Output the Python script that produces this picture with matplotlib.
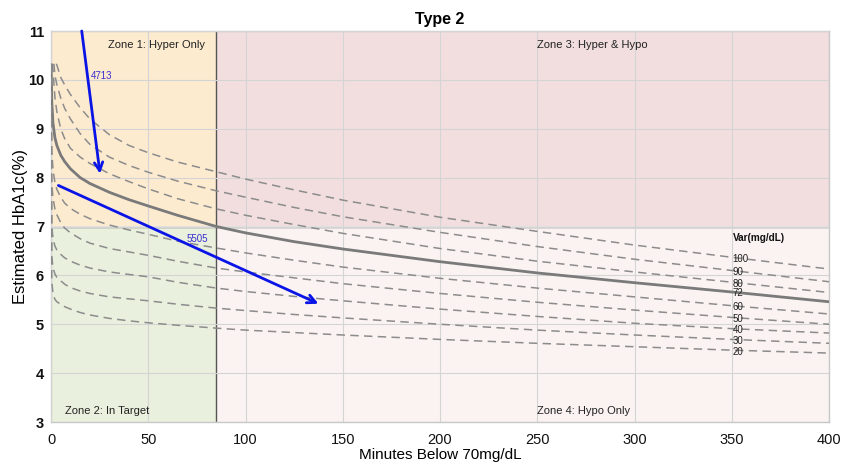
import matplotlib
matplotlib.use("Agg")
import matplotlib.pyplot as plt
import numpy as np

plt.rcParams['font.family'] = ['Liberation Sans', 'DejaVu Sans']

title = "Type 2"
xlabel = "Minutes Below 70mg/dL"
ylabel = "Estimated HbA1c(%)"
xticks = [0, 50, 100, 150, 200, 250, 300, 350, 400]
yticks = [3, 4, 5, 6, 7, 8, 9, 10, 11]

# zone boundaries
hypo_limit = 85
hyper_limit = 7.0

# common x grid for curves (minutes)
x_grid = [0.1, 0.4, 1, 2, 3, 5, 7, 10, 15, 20, 30, 40, 50, 65, 85, 100, 125, 150, 200, 250, 300, 350, 400]

# curves by variability (mg/dL); nan where above the chart's cap
v100 = [np.nan, np.nan, np.nan, np.nan, np.nan, 10.05, 9.9, 9.7, 9.43, 9.2, 8.88, 8.66, 8.51, 8.32, 8.12, 7.97, 7.75, 7.54, 7.19, 6.90, 6.62, 6.37, 6.13]
v90 = [np.nan, np.nan, np.nan, 10.1, 9.9, 9.63, 9.42, 9.2, 8.9, 8.68, 8.42, 8.25, 8.11, 7.93, 7.73, 7.6, 7.39, 7.2, 6.88, 6.59, 6.33, 6.10, 5.87]
v80 = [np.nan, np.nan, 10.2, 9.65, 9.35, 9.0, 8.8, 8.6, 8.42, 8.29, 8.08, 7.92, 7.77, 7.57, 7.36, 7.23, 7.04, 6.86, 6.55, 6.29, 6.07, 5.86, 5.65]
v72 = [10.2, 9.55, 9.12, 8.82, 8.66, 8.46, 8.33, 8.18, 8.0, 7.88, 7.7, 7.55, 7.42, 7.23, 7.0, 6.87, 6.69, 6.54, 6.28, 6.05, 5.85, 5.66, 5.46]
v60 = [10.0, 8.55, 8.18, 7.9, 7.76, 7.6, 7.48, 7.37, 7.25, 7.16, 7.03, 6.93, 6.84, 6.70, 6.56, 6.46, 6.31, 6.17, 5.94, 5.74, 5.56, 5.38, 5.21]
v50 = [9.6, 7.85, 7.6, 7.36, 7.24, 7.08, 6.97, 6.87, 6.75, 6.66, 6.55, 6.48, 6.41, 6.29, 6.15, 6.07, 5.95, 5.83, 5.63, 5.45, 5.29, 5.14, 5.0]
v40 = [9.2, 7.0, 6.77, 6.6, 6.52, 6.43, 6.36, 6.29, 6.21, 6.15, 6.07, 6.02, 5.97, 5.86, 5.74, 5.67, 5.57, 5.48, 5.31, 5.16, 5.02, 4.91, 4.82]
v30 = [8.6, 6.38, 6.16, 6.03, 5.96, 5.89, 5.82, 5.75, 5.68, 5.63, 5.56, 5.52, 5.48, 5.41, 5.33, 5.28, 5.2, 5.13, 5.0, 4.88, 4.78, 4.69, 4.61]
v20 = [8.0, 5.88, 5.63, 5.51, 5.46, 5.41, 5.36, 5.31, 5.24, 5.19, 5.12, 5.07, 5.03, 4.98, 4.92, 4.88, 4.83, 4.78, 4.69, 4.61, 4.54, 4.47, 4.41]
# start points where the curves meet the chart's cap
cap_start_x = {"100": 2.8, "90": 1.5, "80": 0.8, "72": 0.0, "60": 0.0, "50": 0.0, "40": 0.0, "30": 0.0, "20": 0.0}
cap_value = 10.33

var_names = ["100", "90", "80", "72", "60", "50", "40", "30", "20"]
var_series = [v100, v90, v80, v72, v60, v50, v40, v30, v20]

# patient trajectories
arrow1_label = "4713"
arrow1_start = (15.8, 11.0)
arrow1_end = (25.2, 8.08)
arrow2_label = "5505"
arrow2_start = (3.8, 7.84)
arrow2_end = (137.5, 5.42)

fig = plt.figure(figsize=(8.42, 4.65), dpi=100)
ax = fig.add_axes([51/842, 1-422/465, (829-51)/842, (422-31)/465])
ax.set_xlim(0, 400)
ax.set_ylim(3, 11)

# zones
ax.axvspan(0, hypo_limit, ymin=0.5, ymax=1, color="#fdebd0", lw=0, zorder=0)
ax.axvspan(0, hypo_limit, ymin=0, ymax=0.5, color="#e9f0dd", lw=0, zorder=0)
ax.axvspan(hypo_limit, 400, ymin=0.5, ymax=1, color="#f2dede", lw=0, zorder=0)
ax.axvspan(hypo_limit, 400, ymin=0, ymax=0.5, color="#faf3f1", lw=0, zorder=0)

ax.set_xticks(xticks)
ax.set_yticks(yticks)
ax.grid(True, color="#d4d4d4", lw=0.8, zorder=1)
ax.set_axisbelow(False)

ax.axvline(hypo_limit, color="#555555", lw=1.0, zorder=2)
ax.axhline(hyper_limit, color="#666666", lw=1.0, zorder=2)

xg = np.array(x_grid)
i350 = x_grid.index(350)
for name, ys in zip(var_names, var_series):
    ys = np.array(ys, dtype=float)
    mask = ~np.isnan(ys)
    label_y = ys[i350]
    xs = np.concatenate([[cap_start_x[name]], xg[mask]])
    ys = np.concatenate([[cap_value], ys[mask]])
    if name == "72":
        ax.plot(xs, ys, color="#7a7a7a", lw=2.0, zorder=3, solid_capstyle='butt',
                solid_joinstyle='round')
    else:
        ax.plot(xs, ys, color="#8c8c8c", lw=1.1, ls=(0, (5.5, 3.5)), zorder=3)
    ax.text(350.5, label_y - 0.03, name, fontsize=7, color="#222222",
            ha="left", va="center", zorder=5)

ax.text(350.5, 6.77, "Var(mg/dL)", fontsize=7.2, fontweight="bold",
        color="#111111", ha="left", va="center", zorder=5)

# arrows
for (s, e, lab, lab_xy, ha) in [(arrow1_start, arrow1_end, arrow1_label, (20.5, 10.07), "left"),
                                (arrow2_start, arrow2_end, arrow2_label, (81, 6.74), "right")]:
    ax.annotate("", xy=e, xytext=s,
                arrowprops=dict(arrowstyle="->,head_length=0.6,head_width=0.3",
                                color="#0a14e6", lw=2.0, shrinkA=0, shrinkB=0),
                zorder=6, annotation_clip=False)
    ax.text(lab_xy[0], lab_xy[1], lab, fontsize=7, color="#3a2fd0",
            ha=ha, va="center", zorder=6)

# zone labels
ax.text(79, 10.71, "Zone 1: Hyper Only", fontsize=8, color="#222222", ha="right", va="center", zorder=5)
ax.text(250, 10.71, "Zone 3: Hyper & Hypo", fontsize=8, color="#222222", ha="left", va="center", zorder=5)
ax.text(7, 3.23, "Zone 2: In Target", fontsize=8, color="#222222", ha="left", va="center", zorder=5)
ax.text(250, 3.23, "Zone 4: Hypo Only", fontsize=8, color="#222222", ha="left", va="center", zorder=5)

for sp in ax.spines.values():
    sp.set_color("#c8c8c8")
    sp.set_linewidth(1.0)

ax.tick_params(axis="both", length=0, labelsize=10.5, colors="#111111")
ax.tick_params(axis="x", pad=8)
ax.tick_params(axis="y", pad=5)
for lbl in ax.get_yticklabels():
    lbl.set_fontweight("bold")

ax.set_title(title, fontsize=11.5, fontweight="bold", pad=5)
ax.set_xlabel(xlabel, fontsize=11, labelpad=1)
ax.set_ylabel(ylabel, fontsize=12, labelpad=0)

fig.savefig("out.png", dpi=100)
